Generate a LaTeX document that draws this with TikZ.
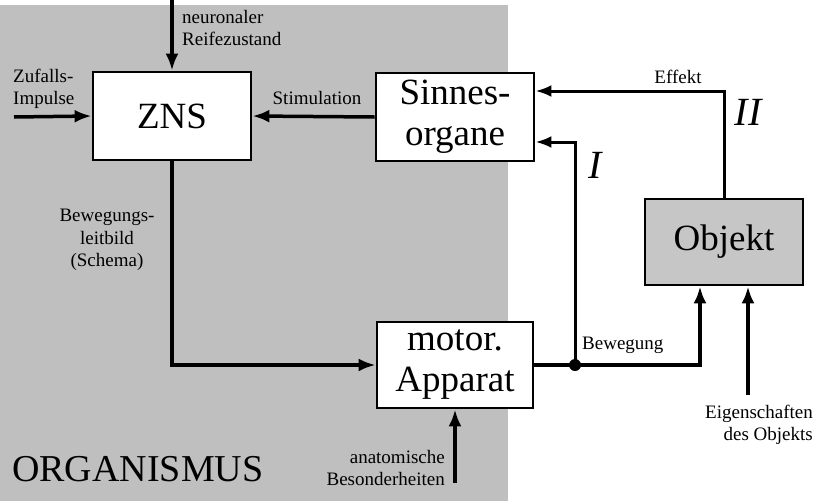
\documentclass[tikz,border=0pt]{standalone}
\usepackage{fontspec}
\setmainfont{Liberation Serif}
\usetikzlibrary{arrows.meta,calc}
\begin{document}
\begin{tikzpicture}[x=1pt,y=-1pt,
  bigbox/.style={draw,line width=2.8pt,fill=white,minimum width=158pt,minimum height=88pt,inner sep=0pt,align=center,font=\fontsize{37}{41}\selectfont},
  arr/.style={line width=3.5pt,-{Latex[length=17pt,width=13pt]}},
  thinarr/.style={line width=3pt,-{Latex[length=16pt,width=12pt]}},
  lbl/.style={inner sep=0pt,font=\fontsize{19}{22.5}\selectfont},
  roman/.style={inner sep=0pt,font=\fontsize{40}{40}\selectfont\itshape}]
\useasboundingbox (0,0) rectangle (814,501);
\fill[gray!50!white] (0,5) rectangle (508,501);
% boxes
\node[bigbox] (zns) at (172,116) {ZNS};
\node[bigbox] (sin) at (455,117) {Sinnes-\\organe};
\node[bigbox,minimum width=156pt,minimum height=86pt] (mot) at (455,365) {motor.\\Apparat};
\node[bigbox,fill=gray!45!white,minimum height=86pt] (obj) at (724,242) {Objekt};
% free ends
\coordinate (ntop) at (172,0);
\coordinate (zleft) at (14,117);
\coordinate (abot) at (455,483);
\coordinate (ebot) at (748,395);
\coordinate (dot) at (575,365);
% connectors
\draw[arr] (ntop) -- (zns.north);
\draw[arr] (zleft) -- (zns.west);
\draw[arr] (sin.west) -- (zns.east);
\draw[arr] (zns.south) |- (mot.west);
\draw[arr] (abot) -- (mot.south);
\draw[arr] (mot.east) -| ([xshift=-24pt]obj.south);
\draw[arr] (ebot) -- ([xshift=24pt]obj.south);
\draw[thinarr] (obj.north) |- ([yshift=26pt]sin.east);
\draw[thinarr] (dot) |- ([yshift=-25pt]sin.east);
\fill (dot) circle (6pt);
% labels
\node[lbl,anchor=west,align=left] (neu) at (182,28) {neuronaler\\Reifezustand};
\node[lbl,anchor=west,align=left] (zuf) at (13,89) {Zufalls-\\Impulse};
\node[lbl] (stim) at (317,98) {Stimulation};
\node[lbl,align=center] (bew) at (107,240) {Bewegungs-\\leitbild\\(Schema)};
\node[lbl] (eff) at (678,77) {Effekt};
\node[roman] (r2) at (748,112) {II};
\node[roman] (r1) at (595,165) {I};
\node[lbl,anchor=west] (bwg) at (582,345) {Bewegung};
\node[lbl,anchor=east,align=right] (ana) at (445,468) {anatomische\\Besonderheiten};
\node[lbl,anchor=east,align=right] (eig) at (813,425) {Eigenschaften\\des Objekts};
\node[inner sep=0pt,anchor=base west,font=\fontsize{38}{38}\selectfont] (org) at (12,481) {ORGANISMUS};
\end{tikzpicture}
\end{document}
